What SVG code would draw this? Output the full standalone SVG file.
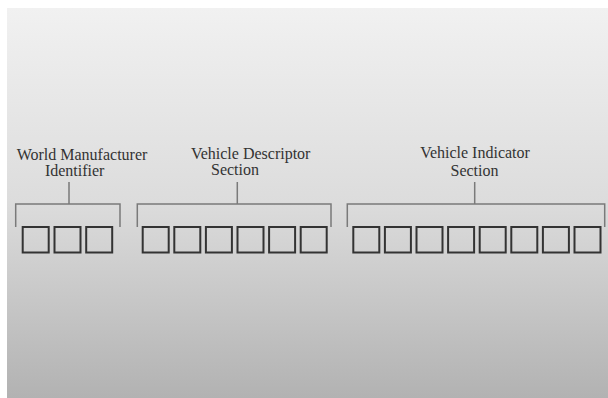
<svg xmlns="http://www.w3.org/2000/svg" width="608" height="398" viewBox="0 0 608 398">
<defs>
<linearGradient id="bg" x1="0" y1="0" x2="0" y2="1">
<stop offset="0" stop-color="#f1f1f1"/>
<stop offset="0.5" stop-color="#dcdcdc"/>
<stop offset="1" stop-color="#b2b2b2"/>
</linearGradient>
</defs>
<style>
.lbl{font-family:"Liberation Serif","Times New Roman",serif;font-size:16px;fill:#333;text-anchor:middle}
.box{fill:none;stroke:#333;stroke-width:2}
.br{fill:none;stroke:#7a7a7a;stroke-width:1.5}
</style>
<rect x="0" y="0" width="608" height="398" fill="#ffffff"/>
<rect x="7" y="8" width="601" height="390" fill="url(#bg)"/>
<g id="connectors">
<path class="br" d="M15.7,227 V204 H120 V227 M69,182 V204"/>
<path class="br" d="M137.3,227 V204 H331 V227 M237.3,182 V204"/>
<path class="br" d="M347.3,227 V204 H604.7 V227 M474.7,182 V204"/>
</g>
<g id="wmi">
<text class="lbl" x="82" y="160">World Manufacturer</text>
<text class="lbl" x="74.7" y="175.5">Identifier</text>
<rect class="box" x="22.7" y="227" width="26" height="25.5"/>
<rect class="box" x="54.5" y="227" width="26" height="25.5"/>
<rect class="box" x="86.2" y="227" width="26" height="25.5"/>
</g>
<g id="vds">
<text class="lbl" x="250.7" y="159">Vehicle Descriptor</text>
<text class="lbl" x="235" y="175">Section</text>
<rect class="box" x="142.7" y="227" width="26" height="25.5"/>
<rect class="box" x="174.3" y="227" width="26" height="25.5"/>
<rect class="box" x="205.9" y="227" width="26" height="25.5"/>
<rect class="box" x="237.5" y="227" width="26" height="25.5"/>
<rect class="box" x="269.1" y="227" width="26" height="25.5"/>
<rect class="box" x="300.7" y="227" width="26" height="25.5"/>
</g>
<g id="vis">
<text class="lbl" x="475" y="158">Vehicle Indicator</text>
<text class="lbl" x="474.5" y="175.5">Section</text>
<rect class="box" x="353.3" y="227" width="26" height="25.5"/>
<rect class="box" x="384.9" y="227" width="26" height="25.5"/>
<rect class="box" x="416.5" y="227" width="26" height="25.5"/>
<rect class="box" x="448.1" y="227" width="26" height="25.5"/>
<rect class="box" x="479.7" y="227" width="26" height="25.5"/>
<rect class="box" x="511.3" y="227" width="26" height="25.5"/>
<rect class="box" x="542.9" y="227" width="26" height="25.5"/>
<rect class="box" x="574.5" y="227" width="26" height="25.5"/>
</g>
</svg>
